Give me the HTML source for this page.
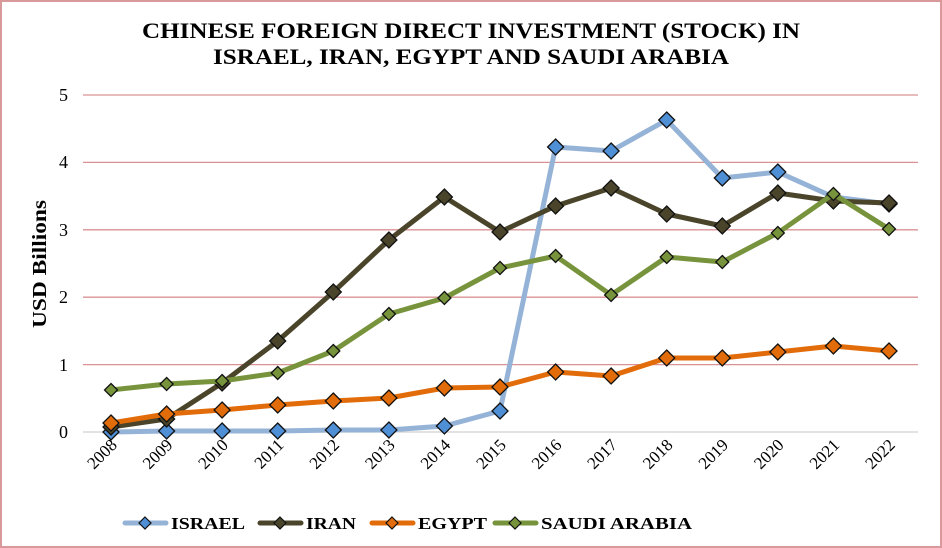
<!DOCTYPE html>
<html><head><meta charset="utf-8"><style>
html,body{margin:0;padding:0;background:#fff}
svg{display:block;font-family:"Liberation Serif",serif}
</style></head><body>
<svg width="942" height="548" viewBox="0 0 942 548">
<defs>
<path id="d" d="M0,-8 L8,0 L0,8 L-8,0 Z" stroke="#111" stroke-width="1.3"/>
<path id="s" d="M0,-6.5 L6.5,0 L0,6.5 L-6.5,0 Z" stroke="#111" stroke-width="1.3"/>
</defs>
<rect x="1" y="1" width="940" height="546" fill="#fff" stroke="#d9999b" stroke-width="2"/>
<text x="142" y="38" font-size="22" font-weight="bold" textLength="658" lengthAdjust="spacingAndGlyphs">CHINESE FOREIGN DIRECT INVESTMENT (STOCK) IN</text>
<text x="213" y="64" font-size="22" font-weight="bold" textLength="516" lengthAdjust="spacingAndGlyphs">ISRAEL, IRAN, EGYPT AND SAUDI ARABIA</text>
<g stroke="#d99394" stroke-width="1.3">
<line x1="83" x2="918" y1="95" y2="95"/><line x1="83" x2="918" y1="162.4" y2="162.4"/>
<line x1="83" x2="918" y1="229.8" y2="229.8"/><line x1="83" x2="918" y1="297.2" y2="297.2"/>
<line x1="83" x2="918" y1="364.6" y2="364.6"/></g>
<line x1="83" x2="918" y1="432" y2="432" stroke="#d0d0d0" stroke-width="1.3"/>
<g font-size="18" text-anchor="end">
<text x="68" y="101">5</text><text x="68" y="168">4</text><text x="68" y="236">3</text>
<text x="68" y="303">2</text><text x="68" y="371">1</text><text x="68" y="438">0</text></g>
<text transform="translate(46,264) rotate(-90)" x="-64" font-size="20" font-weight="bold" textLength="128" lengthAdjust="spacingAndGlyphs">USD Billions</text>
<g font-size="17" text-anchor="end">
<text transform="translate(118,446) rotate(-45)">2008</text>
<text transform="translate(173.6,446) rotate(-45)">2009</text>
<text transform="translate(229.1,446) rotate(-45)">2010</text>
<text transform="translate(284.7,446) rotate(-45)">2011</text>
<text transform="translate(340.3,446) rotate(-45)">2012</text>
<text transform="translate(395.9,446) rotate(-45)">2013</text>
<text transform="translate(451.4,446) rotate(-45)">2014</text>
<text transform="translate(507,446) rotate(-45)">2015</text>
<text transform="translate(562.6,446) rotate(-45)">2016</text>
<text transform="translate(618.1,446) rotate(-45)">2017</text>
<text transform="translate(673.7,446) rotate(-45)">2018</text>
<text transform="translate(729.3,446) rotate(-45)">2019</text>
<text transform="translate(784.8,446) rotate(-45)">2020</text>
<text transform="translate(840.4,446) rotate(-45)">2021</text>
<text transform="translate(896,446) rotate(-45)">2022</text>
</g>
<!-- Israel -->
<polyline fill="none" stroke="#95b3d7" stroke-width="5" stroke-linejoin="round" points="111,432 166.6,431 222.1,431 277.7,431 333.3,430 388.9,430 444.4,426 500,411 555.6,147 611.1,151 666.7,120 722.3,178 777.8,172 833.4,197 889,204"/>
<g fill="#4f8fd6">
<use href="#d" x="111" y="432"/><use href="#d" x="166.6" y="431"/><use href="#d" x="222.1" y="431"/><use href="#d" x="277.7" y="431"/><use href="#d" x="333.3" y="430"/><use href="#d" x="388.9" y="430"/><use href="#d" x="444.4" y="426"/><use href="#d" x="500" y="411"/><use href="#d" x="555.6" y="147"/><use href="#d" x="611.1" y="151"/><use href="#d" x="666.7" y="120"/><use href="#d" x="722.3" y="178"/><use href="#d" x="777.8" y="172"/><use href="#d" x="833.4" y="197"/><use href="#d" x="889" y="204"/></g>
<!-- Iran -->
<polyline fill="none" stroke="#4a452a" stroke-width="5" stroke-linejoin="round" points="111,427 166.6,419 222.1,383 277.7,341 333.3,292 388.9,240 444.4,197 500,232 555.6,206 611.1,188 666.7,214 722.3,226 777.8,193 833.4,201 889,203"/>
<g fill="#4a452a">
<use href="#d" x="111" y="427"/><use href="#d" x="166.6" y="419"/><use href="#d" x="222.1" y="383"/><use href="#d" x="277.7" y="341"/><use href="#d" x="333.3" y="292"/><use href="#d" x="388.9" y="240"/><use href="#d" x="444.4" y="197"/><use href="#d" x="500" y="232"/><use href="#d" x="555.6" y="206"/><use href="#d" x="611.1" y="188"/><use href="#d" x="666.7" y="214"/><use href="#d" x="722.3" y="226"/><use href="#d" x="777.8" y="193"/><use href="#d" x="833.4" y="201"/><use href="#d" x="889" y="203"/></g>
<!-- Egypt -->
<polyline fill="none" stroke="#e36c0a" stroke-width="5" stroke-linejoin="round" points="111,423 166.6,414 222.1,410 277.7,405 333.3,401 388.9,398 444.4,388 500,387 555.6,372 611.1,376 666.7,358 722.3,358 777.8,352 833.4,346 889,351"/>
<g fill="#e36c0a">
<use href="#d" x="111" y="423"/><use href="#d" x="166.6" y="414"/><use href="#d" x="222.1" y="410"/><use href="#d" x="277.7" y="405"/><use href="#d" x="333.3" y="401"/><use href="#d" x="388.9" y="398"/><use href="#d" x="444.4" y="388"/><use href="#d" x="500" y="387"/><use href="#d" x="555.6" y="372"/><use href="#d" x="611.1" y="376"/><use href="#d" x="666.7" y="358"/><use href="#d" x="722.3" y="358"/><use href="#d" x="777.8" y="352"/><use href="#d" x="833.4" y="346"/><use href="#d" x="889" y="351"/></g>
<!-- Saudi -->
<polyline fill="none" stroke="#77933c" stroke-width="5" stroke-linejoin="round" points="111,390 166.6,384 222.1,381 277.7,373 333.3,351 388.9,314 444.4,298 500,268 555.6,256 611.1,295 666.7,257 722.3,262 777.8,233 833.4,194 889,229"/>
<g fill="#77933c">
<use href="#s" x="111" y="390"/><use href="#s" x="166.6" y="384"/><use href="#s" x="222.1" y="381"/><use href="#s" x="277.7" y="373"/><use href="#s" x="333.3" y="351"/><use href="#s" x="388.9" y="314"/><use href="#s" x="444.4" y="298"/><use href="#s" x="500" y="268"/><use href="#s" x="555.6" y="256"/><use href="#s" x="611.1" y="295"/><use href="#s" x="666.7" y="257"/><use href="#s" x="722.3" y="262"/><use href="#s" x="777.8" y="233"/><use href="#s" x="833.4" y="194"/><use href="#s" x="889" y="229"/></g>
<!-- Legend -->
<g font-size="17" font-weight="bold">
<line x1="125" x2="166" y1="523" y2="523" stroke="#95b3d7" stroke-width="5" stroke-linecap="round"/>
<path d="M145,517 L151,523 L145,529 L139,523 Z" fill="#4f8fd6" stroke="#111" stroke-width="1.2"/>
<text x="171" y="529" textLength="74" lengthAdjust="spacingAndGlyphs">ISRAEL</text>
<line x1="260" x2="301" y1="523" y2="523" stroke="#4a452a" stroke-width="5" stroke-linecap="round"/>
<path d="M280,517 L286,523 L280,529 L274,523 Z" fill="#4a452a" stroke="#111" stroke-width="1.2"/>
<text x="306" y="529" textLength="50" lengthAdjust="spacingAndGlyphs">IRAN</text>
<line x1="372" x2="413" y1="523" y2="523" stroke="#e36c0a" stroke-width="5" stroke-linecap="round"/>
<path d="M392,517 L398,523 L392,529 L386,523 Z" fill="#e36c0a" stroke="#111" stroke-width="1.2"/>
<text x="418" y="529" textLength="69" lengthAdjust="spacingAndGlyphs">EGYPT</text>
<line x1="495" x2="536" y1="523" y2="523" stroke="#77933c" stroke-width="5" stroke-linecap="round"/>
<path d="M515,517 L521,523 L515,529 L509,523 Z" fill="#77933c" stroke="#111" stroke-width="1.2"/>
<text x="541" y="529" textLength="151" lengthAdjust="spacingAndGlyphs">SAUDI ARABIA</text>
</g>
</svg>
</body></html>
